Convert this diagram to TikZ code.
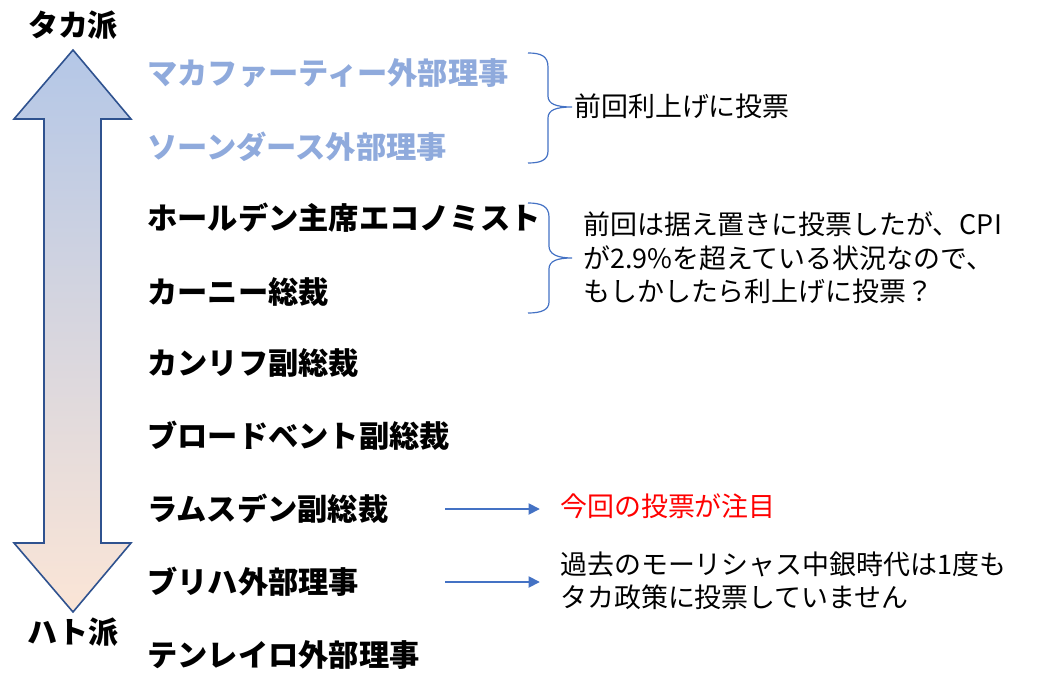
\documentclass[tikz,border=0pt]{standalone}
\usepackage{fontspec}
\setmainfont{Noto Sans CJK JP}
\usetikzlibrary{arrows.meta}
\definecolor{arrowline}{RGB}{47,82,143}
\definecolor{topblue}{RGB}{180,199,231}
\definecolor{peach}{RGB}{251,229,214}
\definecolor{lightname}{RGB}{143,170,220}
\definecolor{accent}{RGB}{68,114,196}
\definecolor{redtext}{RGB}{255,0,0}
\tikzset{
  member/.style={anchor=west, inner sep=0pt, font=\fontsize{22.7pt}{26pt}\selectfont\bfseries},
  endlabel/.style={inner sep=0pt, font=\fontsize{22.5pt}{26pt}\selectfont\bfseries},
  note/.style={anchor=west, inner sep=0pt, align=left, font=\fontsize{20.2pt}{25pt}\selectfont},
  bracestyle/.style={draw=accent, line width=0.9pt},
  pointer/.style={draw=accent, line width=2.2pt, -{Triangle[length=8.5pt,width=8pt]}}
}
\begin{document}
\begin{tikzpicture}[x=0.75pt, y=-0.75pt]
\useasboundingbox (0,0) rectangle (1051,689);
% double arrow
\path[draw=arrowline, line width=1.2pt, line join=miter, top color=topblue, bottom color=peach]
  (73,50) -- (131,119) -- (101,119) -- (101,543) -- (131,543) -- (73,612)
  -- (14,543) -- (44,543) -- (44,119) -- (14,119) -- cycle;
\node[endlabel] (hawk) at (73,25) {タカ派};
\node[endlabel] (dove) at (73,632) {ハト派};
% members
\node[member, text=lightname] (m1) at (147,73) {マカファーティー外部理事};
\node[member, text=lightname] (m2) at (147,147) {ソーンダース外部理事};
\node[member] (m3) at (147,218) {ホールデン主席エコノミスト};
\node[member] (m4) at (147,292) {カーニー総裁};
\node[member] (m5) at (147,363) {カンリフ副総裁};
\node[member] (m6) at (147,436) {ブロードベント副総裁};
\node[member] (m7) at (147,509) {ラムスデン副総裁};
\node[member] (m8) at (147,582) {ブリハ外部理事};
\node[member] (m9) at (147,655) {テンレイロ外部理事};
% braces
\draw[bracestyle] (528,53) .. controls (541,53) and (548,56) .. (548,67) -- (548,96)
  .. controls (548,104) and (556,107) .. (572,107)
  .. controls (556,107) and (548,110) .. (548,118) -- (548,151)
  .. controls (548,160) and (541,163) .. (528,163);
\draw[bracestyle] (528,203) .. controls (541,203) and (549,206) .. (549,217) -- (549,246)
  .. controls (549,254) and (557,258) .. (572,258)
  .. controls (557,258) and (549,261) .. (549,269) -- (549,302)
  .. controls (549,310) and (541,313) .. (528,313);
% notes
\node[note] (n1) at (574,106) {前回利上げに投票};
\node[note] (n2) at (583,258) {前回は据え置きに投票したが、CPI\\が2.9\%を超えている状況なので、\\もしかしたら利上げに投票？};
\node[note, text=redtext] (n3) at (560,506) {今回の投票が注目};
\node[note] (n4) at (560,581) {過去のモーリシャス中銀時代は1度も\\タカ政策に投票していません};
% pointers
\coordinate (p1s) at (445,509);
\coordinate (p1e) at (540,509);
\coordinate (p2s) at (445,582);
\coordinate (p2e) at (540,582);
\draw[pointer] (p1s) -- (p1e);
\draw[pointer] (p2s) -- (p2e);
\end{tikzpicture}
\end{document}
